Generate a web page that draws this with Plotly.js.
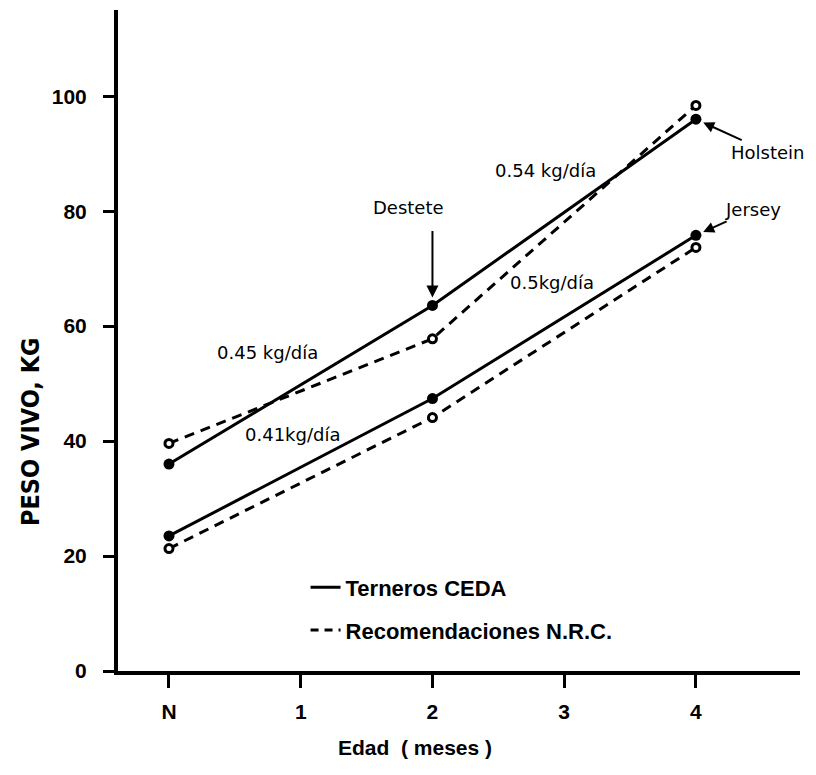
<!DOCTYPE html>
<html>
<head>
<meta charset="utf-8">
<script src="https://cdn.plot.ly/plotly-3.0.1.min.js"></script>
<style>
  html, body { margin: 0; padding: 0; background: #ffffff; }
  #chart { width: 816px; height: 775px; }
</style>
</head>
<body>
<div id="chart"></div>
<script>
// Tick labels for age axis
const ageTicks = [0, 1, 2, 3, 4];
const ageLabels = ['N', '1', '2', '3', '4'];
// Ages at which weights were measured (N, 2, 4 months)
const ageMeasured = [0, 2, 4];
// Live weight, kg
const holsteinCEDA = [36.0, 63.6, 96.0];
const holsteinNRC  = [39.6, 57.8, 98.4];
const jerseyCEDA   = [23.5, 47.4, 75.8];
const jerseyNRC    = [21.3, 44.1, 73.7];
const yTicks = [0, 20, 40, 60, 80, 100];

const FONT = 'Liberation Sans, Arial, sans-serif';
const WIDE = 'DejaVu Sans, Liberation Sans, sans-serif';
const black = '#000000';

function series(y, dashed) {
  return {
    x: ageMeasured, y: y, type: 'scatter', mode: 'lines+markers',
    showlegend: false, hoverinfo: 'skip',
    line: { color: black, width: 3, dash: dashed ? '10px,7px' : 'solid' },
    marker: dashed
      ? { symbol: 'circle', size: 8, color: '#ffffff', line: { color: black, width: 3 } }
      : { symbol: 'circle', size: 11, color: black, line: { width: 0 } }
  };
}

const traces = [
  series(holsteinCEDA, false),
  series(holsteinNRC, true),
  series(jerseyCEDA, false),
  series(jerseyNRC, true),
  { x: [null], y: [null], type: 'scatter', mode: 'lines', name: 'Terneros CEDA',
    legendgroup: 'a', line: { color: black, width: 3 } },
  { x: [null], y: [null], type: 'scatter', mode: 'lines', name: 'Recomendaciones N.R.C.',
    legendgroup: 'b', line: { color: black, width: 3, dash: '8px,6px' } }
];

function lbl(text, x, y, size) {
  return { text: text, x: x, y: y, xref: 'x', yref: 'y', showarrow: false,
           font: { family: WIDE, size: size || 18, color: black } };
}

const layout = {
  width: 816, height: 775,
  paper_bgcolor: '#ffffff', plot_bgcolor: '#ffffff',
  margin: { l: 118, r: 16, t: 10, b: 104 },
  font: { family: FONT, color: black },
  xaxis: {
    range: [-0.387, 4.79], tickvals: ageTicks, ticktext: ageLabels,
    showgrid: false, zeroline: false, showline: true, linecolor: black, linewidth: 4,
    ticks: 'outside', ticklen: 13, tickwidth: 3, tickcolor: black, ticklabelstandoff: 6,
    tickfont: { family: FONT, size: 21, color: black, weight: 'bold' },
    title: { text: '' }
  },
  yaxis: {
    range: [0, 115], tickvals: yTicks,
    showgrid: false, zeroline: false, showline: true, linecolor: black, linewidth: 4,
    ticks: 'outside', ticklen: 11, tickwidth: 3, tickcolor: black, ticklabelstandoff: 12,
    tickfont: { family: FONT, size: 21, color: black, weight: 'bold' },
    title: { text: '' }
  },
  showlegend: true,
  legend: {
    x: 0.275, y: 0.158, xanchor: 'left', yanchor: 'top',
    bgcolor: 'rgba(0,0,0,0)', tracegroupgap: 11,
    font: { family: FONT, size: 22, color: black, weight: 'bold' }
  },
  annotations: [
    { text: 'Edad  ( meses )', xref: 'paper', yref: 'paper', x: (415 - 118) / 682, y: -0.115,
      xanchor: 'center', yanchor: 'middle', showarrow: false,
      font: { family: FONT, size: 21, color: black, weight: 'bold' } },
    { text: 'PESO VIVO, KG', xref: 'paper', yref: 'paper', x: (30 - 118) / 682, y: (671 - 432) / 661,
      xanchor: 'center', yanchor: 'middle', showarrow: false, textangle: -90,
      font: { family: 'DejaVu Sans Condensed, DejaVu Sans, sans-serif', size: 25, color: black, weight: 'bold' } },
    lbl('0.54 kg/día', 2.855, 87.1),
    lbl('0.5kg/día', 2.91, 67.6),
    lbl('0.45 kg/día', 0.75, 55.4),
    lbl('0.41kg/día', 0.94, 41.1),
    lbl('Destete', 1.815, 80.7),
    { text: '', x: ageMeasured[1], y: holsteinCEDA[1], xref: 'x', yref: 'y',
      showarrow: true, ax: 0, ay: -76, arrowhead: 2, arrowsize: 1.2, arrowwidth: 2,
      arrowcolor: black, standoff: 8 },
    { text: 'Holstein', x: ageMeasured[2], y: holsteinCEDA[2], xref: 'x', yref: 'y',
      showarrow: true, ax: 72, ay: 33, arrowhead: 2, arrowsize: 1.1, arrowwidth: 2,
      arrowcolor: black, standoff: 8, font: { family: WIDE, size: 18, color: black } },
    { text: 'Jersey', x: ageMeasured[2], y: jerseyCEDA[2], xref: 'x', yref: 'y',
      showarrow: true, ax: 57, ay: -26, arrowhead: 2, arrowsize: 1.1, arrowwidth: 2,
      arrowcolor: black, standoff: 8, font: { family: WIDE, size: 18, color: black } }
  ]
};

Plotly.newPlot('chart', traces, layout, { staticPlot: true, displayModeBar: false });
</script>
</body>
</html>
